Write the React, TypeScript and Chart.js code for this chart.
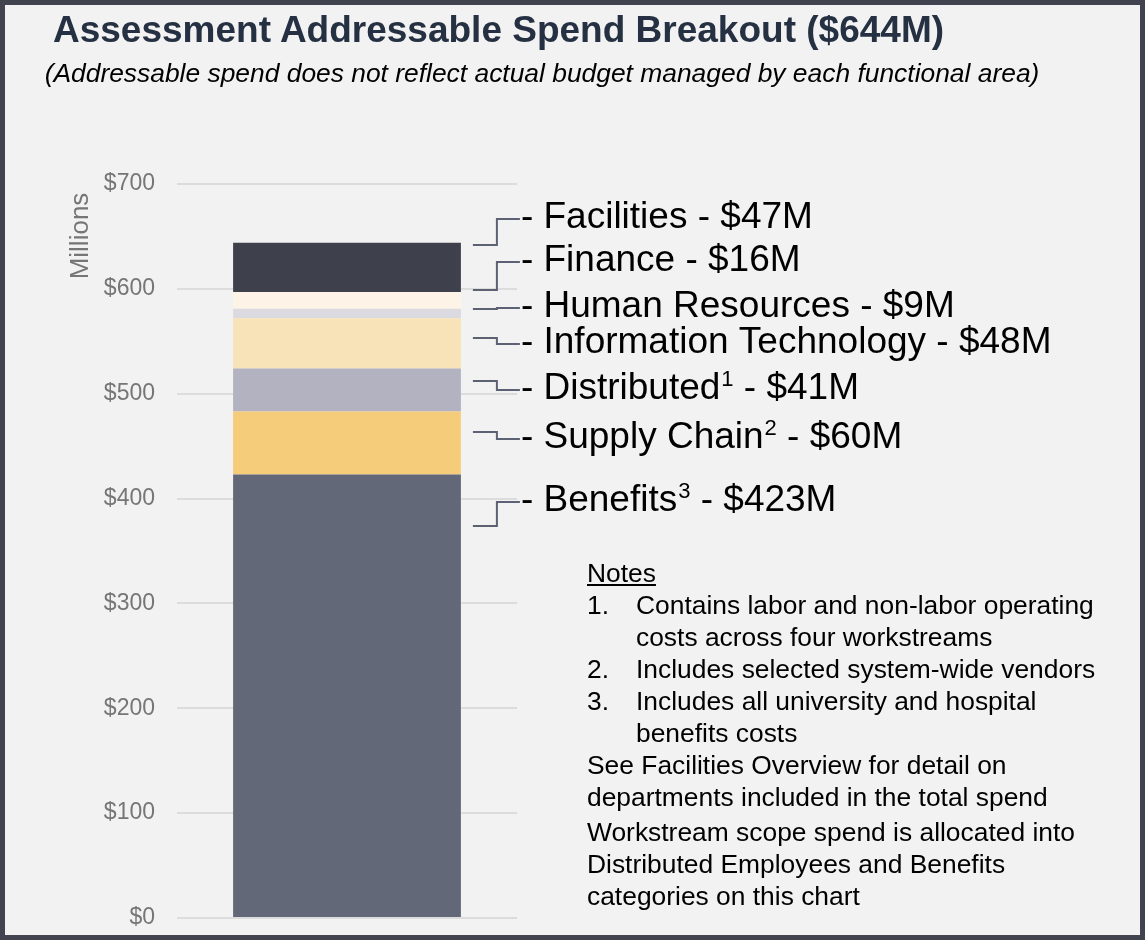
import React, { useEffect, useRef } from "react";
import { Chart, registerables } from "chart.js";

Chart.register(...registerables);

const FONT = "'Liberation Sans', Arial, Helvetica, sans-serif";

const categories = [
  "Benefits",
  "Supply Chain",
  "Distributed",
  "Information Technology",
  "Human Resources",
  "Finance",
  "Facilities",
];
const values = [423, 60, 41, 48, 9, 16, 47];
const footnoteMarks = ["3", "2", "1", "", "", "", ""];
const colors = ["#636879", "#f5cd7a", "#b3b2c1", "#f8e2b7", "#dadae0", "#fdf3e6", "#3e404c"];
const yTickValues = [0, 100, 200, 300, 400, 500, 600, 700];

const titleText = "Assessment Addressable Spend Breakout ($644M)";
const subtitleText =
  "(Addressable spend does not reflect actual budget managed by each functional area)";
const axisTitle = "Millions";

const notesHeading = "Notes";
const noteLines: { num: string; text: string; y: number }[] = [
  { num: "1.", text: "Contains labor and non-labor operating", y: 605 },
  { num: "", text: "costs across four workstreams", y: 637 },
  { num: "2.", text: "Includes selected system-wide vendors", y: 669 },
  { num: "3.", text: "Includes all university and hospital", y: 701 },
  { num: "", text: "benefits costs", y: 733 },
];
const extraLines: { text: string; y: number }[] = [
  { text: "See Facilities Overview for detail on", y: 765 },
  { text: "departments included in the total spend", y: 797 },
  { text: "Workstream scope spend is allocated into", y: 832 },
  { text: "Distributed Employees and Benefits", y: 864 },
  { text: "categories on this chart", y: 896 },
];

// label placement (in data units) for the callout labels
const labelAt = [399.6, 459.7, 506.4, 550.3, 584.6, 628.5, 669.5];
const connectorFrom = [373.8, 463.5, 512.1, 553.1, 580.8, 598.9, 641.8];

const calloutPlugin = {
  id: "callouts",
  afterDatasetsDraw(chart: any) {
    const ctx = chart.ctx;
    const y = chart.scales.y;
    const meta0 = chart.getDatasetMeta(0);
    const bar = meta0.data[0];
    const barRight = bar.x + bar.width / 2;
    const x0 = barRight + 12;
    const xElbow = barRight + 36;
    const textX = barRight + 60;
    ctx.save();
    // rotated axis title near the top of the axis
    ctx.save();
    ctx.translate(81, chart.chartArea.top + 52);
    ctx.rotate(-Math.PI / 2);
    ctx.fillStyle = "#767676";
    ctx.font = `26px ${FONT}`;
    ctx.textAlign = "center";
    ctx.textBaseline = "middle";
    ctx.fillText(axisTitle, 0, 0);
    ctx.restore();

    categories.forEach((name, i) => {
      const ly = y.getPixelForValue(labelAt[i]);
      const sy = y.getPixelForValue(connectorFrom[i]);
      const ey = ly + 3;
      ctx.strokeStyle = "#5c6173";
      ctx.lineWidth = 2;
      ctx.beginPath();
      ctx.moveTo(x0, sy);
      ctx.lineTo(xElbow, sy);
      ctx.lineTo(xElbow, ey);
      ctx.lineTo(textX - 1, ey);
      ctx.stroke();

      const ty = ly + 2;
      ctx.fillStyle = "#000";
      ctx.textBaseline = "middle";
      ctx.textAlign = "left";
      ctx.font = `37px ${FONT}`;
      let x = textX;
      const part1 = `- ${name}`;
      ctx.fillText(part1, x, ty);
      x += ctx.measureText(part1).width;
      if (footnoteMarks[i]) {
        ctx.font = `22px ${FONT}`;
        ctx.fillText(footnoteMarks[i], x + 1, ty - 9);
        x += ctx.measureText(footnoteMarks[i]).width + 1;
        ctx.font = `37px ${FONT}`;
      }
      ctx.fillText(` - $${values[i]}M`, x, ty);
    });
    ctx.restore();
  },
};

export default function App() {
  const ref = useRef<HTMLCanvasElement>(null);
  useEffect(() => {
    document.body.style.margin = "0";
    const chart = new Chart(ref.current!, {
      type: "bar",
      data: {
        labels: ["Total"],
        datasets: categories.map((c, i) => ({
          label: c,
          data: [values[i]],
          backgroundColor: colors[i],
          borderWidth: 0,
          barPercentage: 0.67,
          categoryPercentage: 1,
        })),
      },
      options: {
        animation: false,
        responsive: false,
        maintainAspectRatio: false,
        layout: { padding: { top: 184, bottom: 22, left: 0, right: 628 } },
        plugins: { legend: { display: false }, tooltip: { enabled: false } },
        scales: {
          x: { display: false, stacked: true },
          y: {
            stacked: true,
            min: 0,
            max: 700,
            afterBuildTicks: (s: any) => {
              s.ticks = yTickValues.map((v) => ({ value: v }));
            },
            ticks: {
              callback: (v: any) => "$" + v,
              color: "#767676",
              font: { size: 23, family: FONT },
              padding: 22,
            },
            grid: { color: "#dcdcdc", lineWidth: 2, drawTicks: false },
            border: { display: false },
            title: { display: false },
            afterFit: (s: any) => {
              s.width = 177;
              s.paddingTop = 0;
              s.paddingBottom = 0;
            },
          },
        },
      },
      plugins: [calloutPlugin],
    } as any);
    return () => chart.destroy();
  }, []);

  const abs = (top: number, left: number, extra: any = {}) => ({
    position: "absolute" as const,
    top,
    left,
    whiteSpace: "nowrap" as const,
    fontFamily: FONT,
    ...extra,
  });
  const noteFont = { fontSize: 26.4, lineHeight: "32px", color: "#000" };

  return (
    <div style={{ position: "relative", width: 1145, height: 940, background: "#f2f2f2", overflow: "hidden" }}>
      <canvas ref={ref} width={1145} height={940} style={{ position: "absolute", top: 0, left: 0, width: 1145, height: 940 }} />
      <div style={abs(30 - 22, 0, { width: 997, textAlign: "center", fontSize: 37, lineHeight: "44px", fontWeight: "bold", color: "#253142" })}>
        {titleText}
      </div>
      <div style={abs(73 - 16, 0, { width: 1084, textAlign: "center", fontSize: 26.4, lineHeight: "32px", fontStyle: "italic", color: "#000" })}>
        {subtitleText}
      </div>
      <div style={abs(573 - 16, 587, { ...noteFont, textDecoration: "underline" })}>{notesHeading}</div>
      {noteLines.map((n, i) => (
        <React.Fragment key={"n" + i}>
          {n.num && <div style={abs(n.y - 16, 587, noteFont)}>{n.num}</div>}
          <div style={abs(n.y - 16, 636, noteFont)}>{n.text}</div>
        </React.Fragment>
      ))}
      {extraLines.map((n, i) => (
        <div key={"e" + i} style={abs(n.y - 16, 587, noteFont)}>
          {n.text}
        </div>
      ))}
      <div
        style={{
          position: "absolute",
          top: 0,
          left: 0,
          width: 1145,
          height: 940,
          boxSizing: "border-box",
          border: "5px solid #41434f",
          pointerEvents: "none",
        }}
      />
    </div>
  );
}
